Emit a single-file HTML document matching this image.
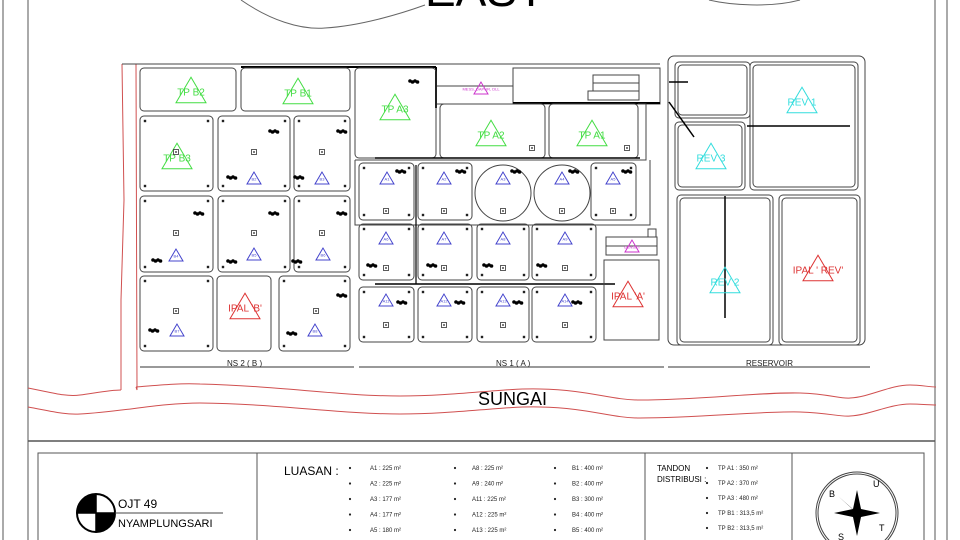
<!DOCTYPE html>
<html><head><meta charset="utf-8"><style>
html,body{margin:0;padding:0;background:#fff;}
svg{display:block;font-family:"Liberation Sans",sans-serif;}
</style></head><body>
<svg id="s" width="960" height="540" viewBox="0 0 960 540" xmlns="http://www.w3.org/2000/svg">
<rect width="960" height="540" fill="#fff"/>
<g stroke="#555" stroke-width="1" fill="none">
<line x1="3" y1="0" x2="3" y2="540"/>
<line x1="28" y1="0" x2="28" y2="540"/>
<line x1="935" y1="0" x2="935" y2="540"/>
<line x1="947" y1="0" x2="947" y2="540"/>
<line x1="28" y1="441" x2="935" y2="441" stroke-width="1.5"/>
<rect x="38" y="453" width="886" height="100"/>
<line x1="257" y1="453" x2="257" y2="540"/>
<line x1="645" y1="453" x2="645" y2="540"/>
<line x1="792" y1="453" x2="792" y2="540"/>
</g>
<path d="M241 0 C270 20 300 30 325 28 C360 26 400 14 425 5" stroke="#666" fill="none"/>
<path d="M709 0 C730 5 770 8 800 0" stroke="#666" fill="none"/>
<text x="425" y="6" font-size="46" fill="#000">EAST</text>
<g stroke="#d05050" fill="none" stroke-width="1">
<path d="M28 388 C50 392 65 397 80 395 C95 393 110 390 121 390"/>
<path d="M136 387 C160 385 180 383 200 384 C280 386 340 396 400 396 C460 396 500 388 540 389 C590 390 610 400 640 400 C700 400 760 392 800 393 C830 394 840 399 850 398 C870 397 890 385 910 385 C920 385 930 387 936 387"/>
<path d="M28 407 C50 411 65 415 80 414 C120 412 160 403 200 403 C280 404 340 414 400 414 C460 414 500 406 540 407 C590 408 610 418 640 418 C700 418 760 411 800 412 C830 413 840 417 850 416 C870 415 890 404 910 404 C920 404 930 405 936 405"/>
<path d="M122 64 L124 200 L121 300 L121 390"/>
<path d="M136 64 L137 390 L136 387"/>
</g>
<text x="478" y="405" font-size="18" fill="#000">SUNGAI</text>
<g stroke="#333" stroke-width="1">
<line x1="140" y1="367" x2="354" y2="367"/>
<line x1="359" y1="367" x2="664" y2="367"/>
<line x1="668" y1="367" x2="870" y2="367"/>
</g>
<g font-size="8" fill="#222">
<text x="227" y="366">NS 2 ( B )</text>
<text x="496" y="366">NS 1 ( A )</text>
<text x="746" y="366">RESERVOIR</text>
</g>
<g id="blocks" stroke="#444" fill="none" stroke-width="1"></g>
<g id="deco"></g>
<g>
<circle cx="96" cy="513" r="19" fill="#fff" stroke="#000" stroke-width="2"/>
<path d="M96 513 L77 513 A19 19 0 0 1 96 494 Z" fill="#000"/>
<path d="M96 513 L115 513 A19 19 0 0 1 96 532 Z" fill="#000"/>
<line x1="77" y1="513" x2="115" y2="513" stroke="#000" stroke-width="1.5"/>
<line x1="96" y1="494" x2="96" y2="532" stroke="#000" stroke-width="1.5"/>
<line x1="115" y1="513" x2="223" y2="513" stroke="#444"/>
<text x="118" y="508" font-size="12">OJT 49</text>
<text x="118" y="527" font-size="11">NYAMPLUNGSARI</text>
<text x="284" y="475" font-size="12">LUASAN :</text>
<text x="657" y="471" font-size="8">TANDON</text>
<text x="657" y="482" font-size="8">DISTRIBUSI :</text>
<circle cx="857" cy="513" r="41" fill="none" stroke="#444"/>
<circle cx="857" cy="513" r="39" fill="none" stroke="#444"/>
<polygon points="857,490 861,509 880,513 861,517 857,536 853,517 834,513 853,509" fill="#000"/>
<polygon points="838,496 855,511 876,532 859,515" fill="#000"/>
<polygon points="876,494 859,511 838,532 855,515" fill="#000"/>
<text x="829" y="497" font-size="9">B</text>
<text x="873" y="487" font-size="9">U</text>
<text x="879" y="531" font-size="9">T</text>
<text x="838" y="540" font-size="9">S</text>
</g>
<g id="leg" font-size="6" fill="#222"></g>
</svg>
<script>
var NS="http://www.w3.org/2000/svg";
function el(p,t,a,txt){var e=document.createElementNS(NS,t);for(var k in a)e.setAttribute(k,a[k]);if(txt)e.textContent=txt;document.getElementById(p).appendChild(e);return e;}
function rr(x1,y1,x2,y2,r,dbl){el('blocks','rect',{x:x1,y:y1,width:x2-x1,height:y2-y1,rx:r||4});if(dbl)el('blocks','rect',{x:x1+3,y:y1+3,width:x2-x1-6,height:y2-y1-6,rx:r||4});}
function tri(cx,cy,w,col,lab,fs){var h=w*0.85;el('deco','polygon',{points:(cx)+','+(cy-h/2)+' '+(cx-w/2)+','+(cy+h/2)+' '+(cx+w/2)+','+(cy+h/2),fill:'none',stroke:col,'stroke-width':1});el('deco','text',{x:cx,y:cy+h*0.22,'text-anchor':'middle','font-size':fs,fill:col},lab);}
function tree(x,y){for(var i=0;i<4;i++)el('deco','circle',{cx:x+i*2.5,cy:y+(i%2),r:1.8,fill:'#000'});}
function sq(x,y){el('deco','rect',{x:x-2.5,y:y-2.5,width:5,height:5,fill:'none',stroke:'#333','stroke-width':0.8});el('deco','rect',{x:x-0.8,y:y-0.8,width:1.6,height:1.6,fill:'#333'});}
function dots(x1,y1,x2,y2){[[x1+5,y1+5],[x2-5,y1+5],[x1+5,y2-5],[x2-5,y2-5]].forEach(function(p){el('deco','rect',{x:p[0]-1.2,y:p[1]-1.2,width:2.4,height:2.4,fill:'#222'});});}
el('blocks','line',{x1:122,y1:64,x2:660,y2:64});
el('blocks','path',{d:'M437 104 L660 104 L660 68 L513 68 L513 104','stroke-width':1});
el('blocks','line',{x1:437,y1:86,x2:513,y2:86});
el('blocks','line',{x1:241,y1:67,x2:436,y2:67,'stroke-width':2,stroke:'#000'});
el('blocks','line',{x1:436,y1:67,x2:436,y2:108,'stroke-width':2,stroke:'#000'});
el('blocks','line',{x1:513,y1:103,x2:660,y2:103,'stroke-width':2,stroke:'#000'});
el('blocks','rect',{x:593,y:75,width:46,height:8});el('blocks','rect',{x:593,y:83,width:46,height:8});el('blocks','rect',{x:588,y:91,width:51,height:9});
rr(140,68,236,111,4);rr(241,68,350,111,4);rr(355,68,436,158,4);
rr(440,104,545,158,4);rr(549,104,638,158,4);
el('blocks','path',{d:'M638 104 L646 104 L646 160 L355 160'});
var bx=[[140,213],[218,290],[294,350]];
[[116,191],[196,272]].forEach(function(r){bx.forEach(function(c){rr(c[0],r[0],c[1],r[1],4);dots(c[0],r[0],c[1],r[1]);});});
rr(140,276,213,351,4);dots(140,276,213,351);rr(217,276,271,351,4);rr(279,276,350,351,4);dots(279,276,350,351);
el('blocks','path',{d:'M355 160 L355 225 L650 225 L650 160'});
rr(359,163,414,220,4);rr(418,163,472,220,4);rr(591,163,636,220,4);
dots(359,163,414,220);dots(418,163,472,220);dots(591,163,636,220);
el('blocks','circle',{cx:503,cy:193,r:28});el('blocks','circle',{cx:562,cy:193,r:28});
var ax=[[359,414],[418,472],[477,529],[532,596]];
[[224,280],[287,342]].forEach(function(r){ax.forEach(function(c){rr(c[0],r[0],c[1],r[1],4);dots(c[0],r[0],c[1],r[1]);});});
el('blocks','line',{x1:375,y1:284,x2:615,y2:284,stroke:'#000','stroke-width':1.5});
el('blocks','line',{x1:416,y1:165,x2:416,y2:284,stroke:'#000','stroke-width':1.2});
el('blocks','line',{x1:375,y1:158,x2:640,y2:158,stroke:'#000','stroke-width':1.5});
el('blocks','rect',{x:604,y:260,width:55,height:80});
el('blocks','rect',{x:606,y:237,width:51,height:18});el('blocks','line',{x1:606,y1:246,x2:657,y2:246});
el('blocks','rect',{x:648,y:229,width:8,height:8});
rr(668,56,865,345,6);
rr(675,62,750,118,4,1);rr(750,62,858,190,4,1);rr(675,122,745,190,4,1);
rr(677,195,773,345,4,1);rr(779,195,860,345,4,1);
el('blocks','line',{x1:747,y1:126,x2:850,y2:126,stroke:'#000','stroke-width':1.5});
el('blocks','line',{x1:725,y1:196,x2:725,y2:318,stroke:'#000','stroke-width':1.5});
el('blocks','line',{x1:669,y1:82,x2:688,y2:82,stroke:'#000','stroke-width':1.5});
el('blocks','line',{x1:669,y1:102,x2:694,y2:137,stroke:'#000','stroke-width':1.5});
var G='#44dd44',B='#4444cc',R='#dd3333',C='#33dddd',M='#cc33cc';
tri(191,90,30,G,'TP B2',10);tri(298,91,30,G,'TP B1',10);tri(395,107,30,G,'TP A3',10);
tri(177,156,30,G,'TP B3',10);tri(491,133,30,G,'TP A2',10);tri(592,133,30,G,'TP A1',10);
tri(481,88,14,M,'MESS, DAPUR, DLL',4);tri(632,246,14,M,'GENSET',4);
tri(245,306,30,R,"IPAL 'B'",10);tri(628,294,30,R,"IPAL 'A'",10);
tri(802,100,30,C,'REV 1',10);tri(711,156,30,C,'REV 3',10);tri(725,280,30,C,'REV 2',10);tri(818,268,30,R,"IPAL ' REV'",10);
[[254,178,'B2'],[322,178,'B3'],[176,255,'B4'],[254,254,'B5'],[323,254,'B6'],[177,330,'B7'],[315,330,'B8'],
 [387,178,'A1'],[444,178,'A2'],[503,178,'A3'],[562,178,'A4'],[613,178,'A5'],
 [386,238,'A6'],[444,238,'A7'],[503,238,'A8'],[565,238,'A9'],
 [386,300,'A11'],[444,300,'A12'],[503,300,'A13'],[565,300,'A14']].forEach(function(t){tri(t[0],t[1],14,B,t[2],4);});
[[176,152],[254,152],[322,152],[176,233],[254,233],[322,233],[176,311],[316,311],[386,211],[444,211],[503,211],[562,211],[613,211],[386,268],[444,268],[503,268],[565,268],[386,325],[444,325],[503,325],[565,325],[532,148],[627,148]].forEach(function(p){sq(p[0],p[1]);});
[[270,131],[338,131],[228,177],[295,177],[195,213],[270,213],[338,213],[153,260],[228,261],[293,261],[150,330],[288,333],[338,295],[410,81],[397,171],[457,171],[512,171],[570,171],[623,171],[368,265],[428,265],[484,265],[538,265],[398,302],[456,302],[514,302],[573,302]].forEach(function(p){tree(p[0],p[1]);});
var cols=[[350,370,['A1 : 225 m²','A2 : 225 m²','A3 : 177 m²','A4 : 177 m²','A5 : 180 m²']],[455,472,['A8 : 225 m²','A9 : 240 m²','A11 : 225 m²','A12 : 225 m²','A13 : 225 m²']],[555,572,['B1 : 400 m²','B2 : 400 m²','B3 : 300 m²','B4 : 400 m²','B5 : 400 m²']]];
cols.forEach(function(c){c[2].forEach(function(t,i){var y=470+i*15.5;el('leg','circle',{cx:c[0],cy:y-2,r:1.1,fill:'#222'});el('leg','text',{x:c[1],y:y},t);});});
['TP A1 : 350 m²','TP A2 : 370 m²','TP A3 : 480 m²','TP B1 : 313,5 m²','TP B2 : 313,5 m²'].forEach(function(t,i){var y=470+i*15;el('leg','circle',{cx:707,cy:y-2,r:1.1,fill:'#222'});el('leg','text',{x:718,y:y},t);});
</script>
</body></html>
